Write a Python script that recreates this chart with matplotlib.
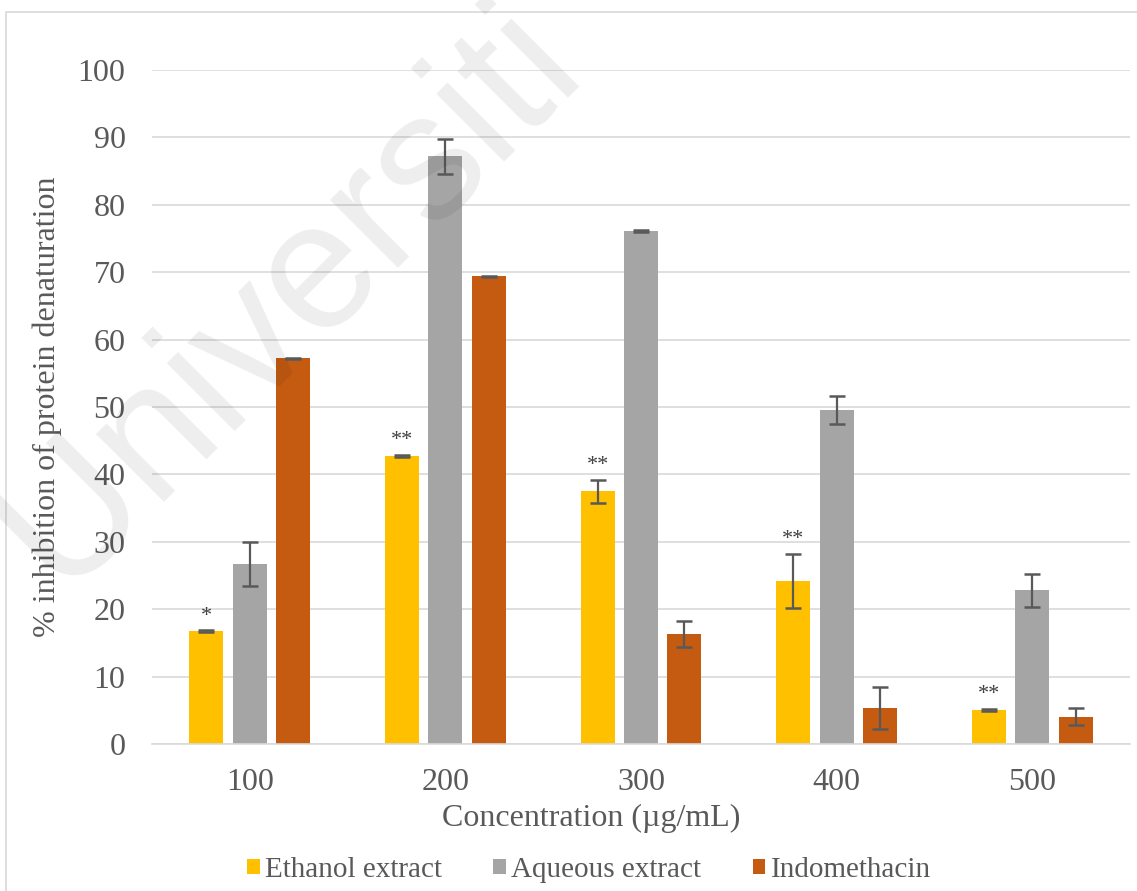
import matplotlib
matplotlib.use("Agg")
import matplotlib.pyplot as plt
import numpy as np
from matplotlib.patches import Rectangle, Patch

# Data: % inhibition of protein denaturation
concentrations = ["100", "200", "300", "400", "500"]
series_names = ["Ethanol extract", "Aqueous extract", "Indomethacin"]
ethanol = [16.7, 42.7, 37.5, 24.2, 5.1]
ethanol_err = [0.15, 0.15, 1.7, 4.0, 0.15]
aqueous = [26.7, 87.2, 76.1, 49.6, 22.8]
aqueous_err = [3.3, 2.6, 0.1, 2.1, 2.4]
indomethacin = [57.2, 69.4, 16.3, 5.3, 4.05]
indomethacin_err = [0.1, 0.1, 1.9, 3.1, 1.3]
significance = ["*", "**", "**", "**", "**"]

colors = ["#FFC000", "#A5A5A5", "#C55A11"]
text_color = "#595959"
grid_color = "#D9D9D9"

plt.rcParams["font.family"] = ["Liberation Serif", "DejaVu Serif"]

fig = plt.figure(figsize=(11.37, 8.91), dpi=100)
ax = fig.add_axes([152 / 1137, 1 - 744 / 891, 978 / 1137, 674 / 891])

x = np.arange(len(concentrations))
offset = 0.222
width = 0.174
values = [ethanol, aqueous, indomethacin]
errors = [ethanol_err, aqueous_err, indomethacin_err]

for i, (vals, errs, col, name) in enumerate(zip(values, errors, colors, series_names)):
    pos = x + (i - 1) * offset
    ax.bar(pos, vals, width=width, color=col, label=name, zorder=2)
    ax.errorbar(pos, vals, yerr=errs, fmt="none", ecolor="#595959",
                elinewidth=1.6, capsize=6, capthick=1.8, zorder=3)

# Significance marks above the ethanol bars
for xi, v, e, s in zip(x - offset, ethanol, ethanol_err, significance):
    ax.annotate(s, (xi, v + e), xytext=(0, 7), textcoords="offset points",
                ha="center", va="baseline", fontsize=16, color="#404040", zorder=4)

ax.set_xlim(-0.5, 4.5)
ax.set_ylim(0, 100)
ax.set_yticks(np.arange(0, 101, 10))
ax.set_xticks(x)
ax.set_xticklabels(concentrations)
ax.yaxis.grid(True, color=grid_color, linewidth=1.2, zorder=0)
ax.set_axisbelow(True)
for side in ["top", "right", "left"]:
    ax.spines[side].set_visible(False)
ax.spines["bottom"].set_color(grid_color)
ax.spines["bottom"].set_linewidth(1.2)
ax.tick_params(axis="both", length=0, labelsize=23, labelcolor=text_color)
ax.tick_params(axis="y", pad=19)
ax.tick_params(axis="x", pad=17)

ax.set_ylabel("% inhibition of protein denaturation", fontsize=23, color=text_color)
ax.yaxis.set_label_coords(-0.092, 0.5)
ax.set_xlabel("Concentration (µg/mL)", fontsize=23, color=text_color)
ax.xaxis.set_label_coords(0.449, -0.11)
ax.xaxis.label.set_va("center")

handles = [Patch(facecolor=c) for c in colors]
fig.legend(handles, series_names, loc="center", bbox_to_anchor=(589 / 1137, 1 - 870 / 891),
           ncol=3, frameon=False, fontsize=21, labelcolor=text_color,
           handlelength=0.42, handleheight=0.42, handletextpad=0.2, columnspacing=1.75)

# Chart area border
fig.patches.append(Rectangle((6 / 1137, -0.1), 1.2, 1.1 - 12 / 891, transform=fig.transFigure,
                             fill=False, edgecolor=grid_color, linewidth=1.2, zorder=0))

# Watermark
fig.text(60 / 1137, 1 - 593 / 891, "Universiti", rotation=45, rotation_mode="anchor",
         ha="left", va="baseline", fontsize=130, family="Liberation Sans",
         color="black", alpha=0.07, zorder=10)

fig.savefig("out.png", dpi=100)
